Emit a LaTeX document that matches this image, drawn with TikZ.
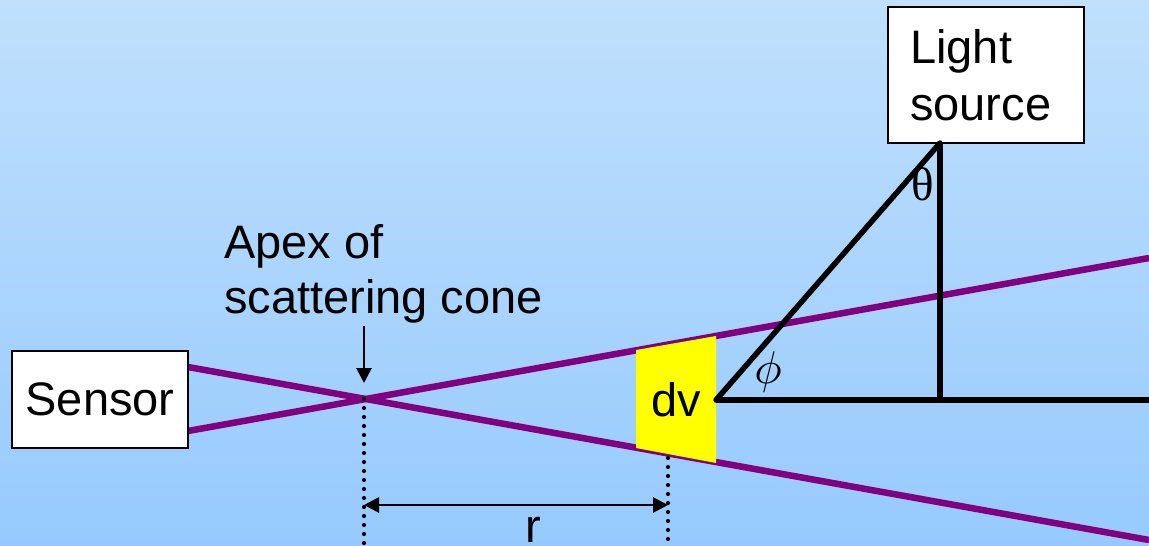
\documentclass[tikz,border=0pt]{standalone}
\usepackage{fontspec}
\setmainfont{Liberation Sans}
\newfontfamily\serifgr{Liberation Serif}
\usetikzlibrary{arrows.meta}
\definecolor{bgtop}{RGB}{192,224,252}
\definecolor{bgbot}{RGB}{150,202,254}
\definecolor{cone}{RGB}{128,0,128}
\definecolor{dvyellow}{RGB}{255,255,0}
\tikzset{
  lbl/.style={font=\fontsize{47}{56}\selectfont, inner sep=0pt},
  box/.style={draw=black, line width=2.2pt, fill=white, inner sep=0pt},
  conel/.style={draw=cone, line width=6.5pt},
  geo/.style={draw=black, line width=5.5pt},
  dimline/.style={draw=black, line width=2.8pt},
  dotv/.style={draw=black, line width=4.2pt, line cap=round, dash pattern=on 0pt off 9pt},
  tip/.style={-{Triangle[length=15pt,width=15pt]}},
}
\begin{document}
\begin{tikzpicture}[x=1pt,y=-1pt]
\useasboundingbox (0,0) rectangle (1149,546);
\shade[top color=bgtop, bottom color=bgbot] (0,0) rectangle (1149,546);
% coordinates
\coordinate (apex) at (364,399);
\coordinate (ulS) at (188,367);
\coordinate (llS) at (188,431);
\coordinate (ulE) at (1149,540);
\coordinate (llE) at (1149,258);
% cone lines
\draw[conel] (ulS) -- (ulE);
\draw[conel] (llS) -- (llE);
% dv volume
\coordinate (dvTL) at (636,350);
\coordinate (dvTR) at (716,336);
\coordinate (dvBR) at (716,463);
\coordinate (dvBL) at (636,448);
\fill[dvyellow] (dvTL) -- (dvTR) -- (dvBR) -- (dvBL) -- cycle;
\node[lbl] (dv) at (676,400) {dv};
\coordinate (P) at (716,400);
% boxes
\node[box, minimum width=176pt, minimum height=97pt, lbl, box] (sensor) at (100,399.5) {Sensor};
\node[box, minimum width=196pt, minimum height=136pt] (light) at (986,75) {};
\node[lbl, anchor=base west] (lt1) at (910,63) {Light};
\node[lbl, anchor=base west] (lt2) at (910,120) {source};
% geometry
\coordinate (Ls) at (940,143);
\coordinate (Pv) at (940,400);
\coordinate (Re) at (1149,400);
\draw[geo] (P) -- (Re);
\draw[geo, line cap=round] (P) -- (Ls);
\draw[geo] (Ls) -- (Pv);
\node[lbl, anchor=base, font=\fontsize{47}{56}\serifgr] (theta) at (923,200) {θ};
\node[inner sep=0pt, scale=4.6] (phi) at (768,372) {$\phi$};
% apex label and arrow
\node[lbl, anchor=base west] (ap1) at (224,258) {Apex of};
\node[lbl, anchor=base west] (ap2) at (224,313) {scattering cone};
\coordinate (arS) at (364,326);
\draw[dimline, tip] (arS) -- (364,383);
% dotted guides
\coordinate (d1b) at (364,546);
\coordinate (d2t) at (668,458);
\coordinate (d2b) at (668,546);
\draw[dotv] (apex) -- (d1b);
\draw[dotv] (d2t) -- (d2b);
% r dimension
\coordinate (rL) at (364,505);
\coordinate (rR) at (668,505);
\draw[dimline, {Triangle[length=15pt,width=15pt]}-{Triangle[length=15pt,width=15pt]}] (rL) -- (rR);
\node[lbl, anchor=base] (r) at (533,542) {r};
\end{tikzpicture}
\end{document}
